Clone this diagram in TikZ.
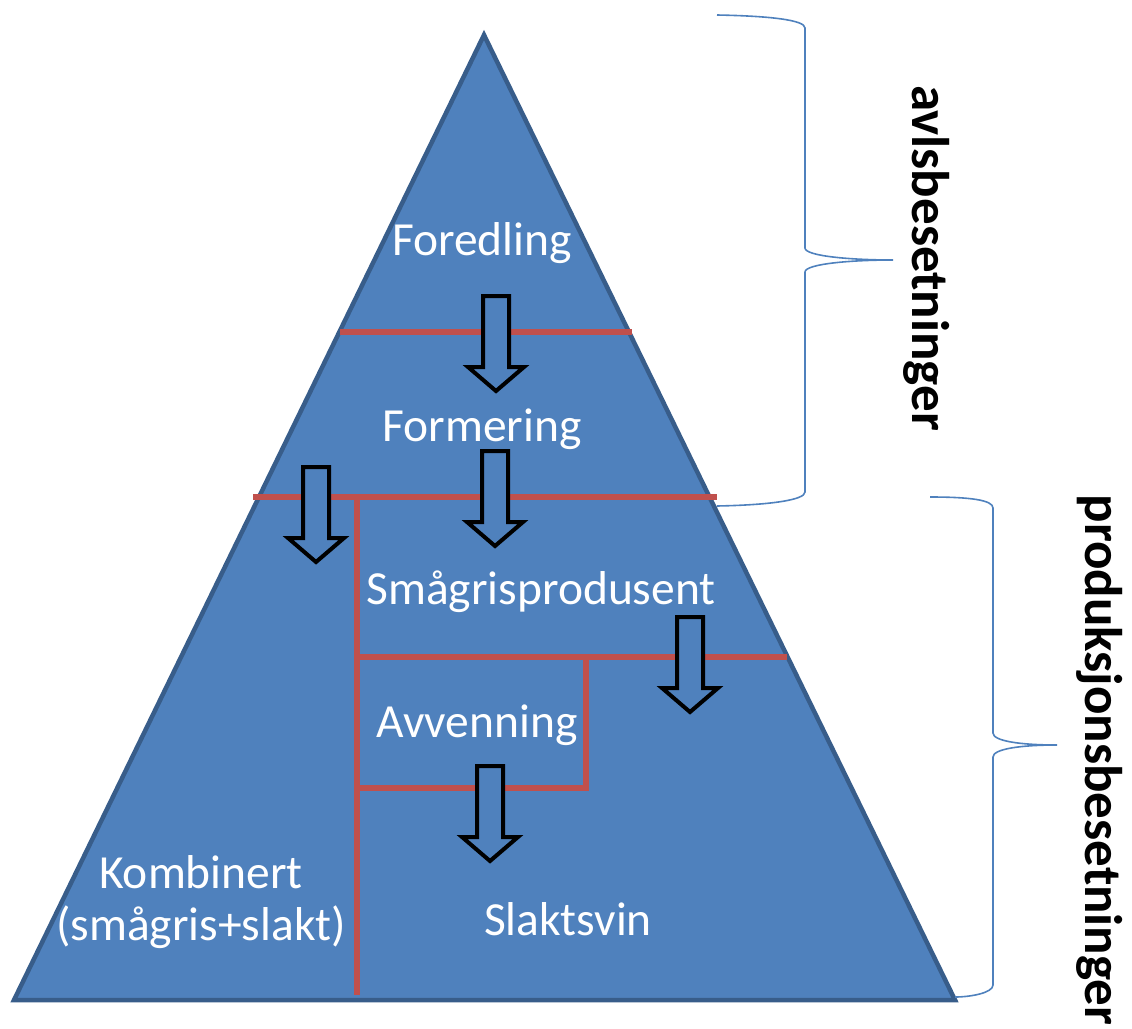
\documentclass[tikz,border=0pt]{standalone}
\usepackage{fontspec}
\setmainfont{Carlito}
\definecolor{pyrfill}{HTML}{4F81BD}
\definecolor{pyrline}{HTML}{385D8A}
\definecolor{redline}{HTML}{C0504D}
\definecolor{bracecol}{HTML}{4F81BD}
\begin{document}
\begin{tikzpicture}[x=1pt,y=-1pt,
  lvl/.style={text=white,font=\fontsize{47.5}{56}\selectfont,anchor=base,inner sep=0pt,align=center},
  side/.style={text=black,font=\bfseries\fontsize{53}{60}\selectfont,rotate=-90,inner sep=0pt},
  divider/.style={draw=redline,line width=6pt},
  bracestyle/.style={draw=bracecol,line width=1.6pt},
  blockarrow/.pic={\draw[fill=pyrfill,draw=black,line width=4pt,line join=miter]
    (-13,0) -- (13,0) -- (13,71) -- (28,71) -- (0,95) -- (-28,71) -- (-13,71) -- cycle;}]
\useasboundingbox (0,0) rectangle (1132,1028);
% pyramid
\coordinate (apex) at (484,35);
\coordinate (bl) at (14,1000);
\coordinate (br) at (955,1000);
\draw[fill=pyrfill,draw=pyrline,line width=4.5pt,line join=miter] (apex) -- (br) -- (bl) -- cycle;
% dividers
\coordinate (d1a) at (340,332); \coordinate (d1b) at (632,332);
\coordinate (d2a) at (253,497); \coordinate (d2b) at (717,497);
\coordinate (v1t) at (357,497); \coordinate (v1b) at (357,995);
\coordinate (d3a) at (357,657); \coordinate (d3b) at (787,657);
\coordinate (v2t) at (586,657); \coordinate (v2b) at (586,788);
\coordinate (d4a) at (357,788);
\draw[divider] (d1a) -- (d1b);
\draw[divider] (d2a) -- (d2b);
\draw[divider] (v1t) -- (v1b);
\draw[divider] (d3a) -- (d3b);
\draw[divider] (v2t) -- (v2b) -- (d4a);
% labels
\node[lvl] (foredling) at (482,255) {Foredling};
\node[lvl] (formering) at (482,441) {Formering};
\node[lvl] (smagris) at (541,604) {Smågrisprodusent};
\node[lvl] (avvenning) at (477,737) {Avvenning};
\node[lvl] (kombinert) at (201,940) {Kombinert\\[-4pt](smågris+slakt)};
\node[lvl] (slaktsvin) at (568,935) {Slaktsvin};
% arrows
\pic at (496,296) {blockarrow};
\pic at (495,451) {blockarrow};
\pic at (316,467) {blockarrow};
\pic at (690,617) {blockarrow};
\pic at (490,766) {blockarrow};
% braces
\draw[bracestyle] (717,15) .. controls (770,16) and (805,20) .. (805,28) -- (805,248)
  .. controls (805,256) and (850,260) .. (893,260)
  .. controls (850,260) and (805,264) .. (805,272) -- (805,492)
  .. controls (805,500) and (770,505) .. (717,506);
\draw[bracestyle] (930,497) .. controls (970,497) and (993,500) .. (993,508) -- (993,733)
  .. controls (993,741) and (1020,745) .. (1057,745)
  .. controls (1020,745) and (993,749) .. (993,757) -- (993,985)
  .. controls (993,993) and (970,997) .. (955,997);
\node[side] (avls) at (927,258) {avlsbesetninger};
\node[side] (prod) at (1100,760) {produksjonsbesetninger};
\end{tikzpicture}
\end{document}
